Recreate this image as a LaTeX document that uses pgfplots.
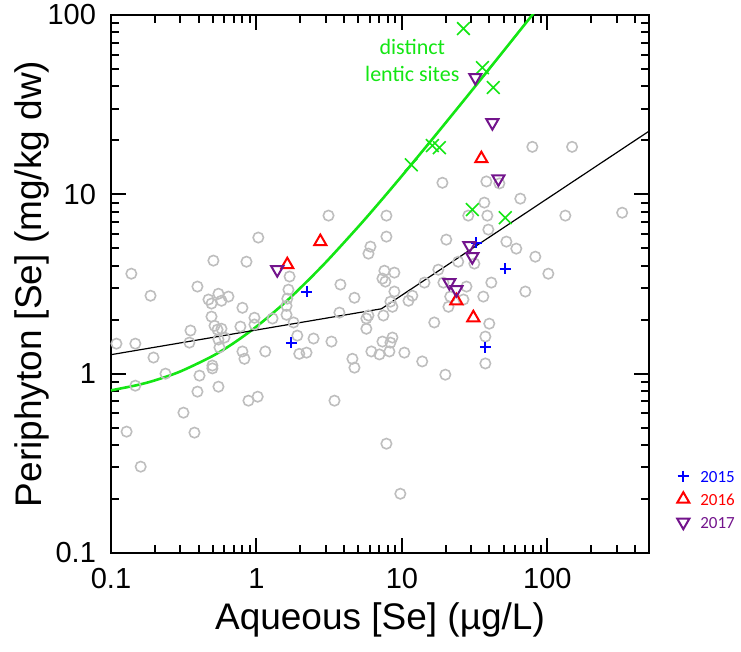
\documentclass[border=0pt]{standalone}
\usepackage{fontspec}
\setmainfont{Liberation Sans}
\newfontfamily\carlito{Carlito}
\usepackage{pgfplots}
\pgfplotsset{compat=1.18}
\definecolor{cgray}{RGB}{190,190,190}
\definecolor{cgreen}{RGB}{20,230,20}
\definecolor{cblue}{RGB}{0,0,255}
\definecolor{cred}{RGB}{255,0,0}
\definecolor{cpurple}{RGB}{115,20,140}
\begin{document}
\begin{tikzpicture}
\useasboundingbox (-55.5pt,-49.5pt) rectangle (315pt,276.5pt);
\begin{axis}[
  at={(0,0)}, anchor=south west,
  width=269pt, height=269pt, scale only axis,
  xmode=log, ymode=log,
  xmin=0.1, xmax=500, ymin=0.1, ymax=100,
  axis line style={line width=1.2pt},
  tick style={black, line width=1pt},
  major tick length=7.5pt, minor tick length=4pt,
  xtick={0.1,1,10,100}, xticklabels={0.1,1,10,100},
  ytick={0.1,1,10,100}, yticklabels={0.1,1,10,100},
  minor xtick={0.2,0.3,0.4,0.5,0.6,0.7,0.8,0.9,2,3,4,5,6,7,8,9,20,30,40,50,60,70,80,90,200,300,400},
  minor ytick={0.2,0.3,0.4,0.5,0.6,0.7,0.8,0.9,2,3,4,5,6,7,8,9,20,30,40,50,60,70,80,90},
  ticklabel style={font=\fontsize{14.5}{15}\selectfont},
  xticklabel style={yshift=-4pt},
  yticklabel style={xshift=-4pt},
  xlabel={Aqueous [Se] (µg/L)},
  ylabel={Periphyton [Se] (mg/kg dw)},
  label style={font=\fontsize{18.5}{20}\selectfont},
  xlabel style={at={(axis description cs:0.5,-0.125)}, anchor=center},
  ylabel style={at={(axis description cs:-0.147,0.5)}, anchor=center},
  legend style={draw=none, fill=none, at={(axis description cs:1.0296,0.10)}, anchor=west,
    font=\carlito\fontsize{8.5}{10}\selectfont,
    nodes={inner sep=0.5pt, text height=6.5pt, text depth=0pt}, row sep=4pt},
  legend cell align=left,
  legend image code/.code={\path[draw=none] (-2pt,0pt) -- (12pt,0pt); \draw[#1] plot coordinates {(4pt,0pt)};},
]
\addplot[only marks, mark=o, mark size=2.6pt, cgray, line width=0.8pt, forget plot] table {
x y
0.109 1.47
0.147 1.47
0.196 1.23
0.147 0.857
0.237 1.00
0.128 0.475
0.160 0.303
0.138 3.61
0.187 2.72
0.393 3.06
0.506 4.27
0.854 4.21
1.03 5.74
0.468 2.59
0.548 2.79
0.642 2.69
0.491 2.46
0.575 2.55
0.801 2.33
0.491 2.08
0.515 1.85
0.540 1.76
0.575 1.78
0.548 1.55
0.603 1.59
0.557 1.40
0.352 1.74
0.346 1.49
0.406 0.975
0.498 1.11
0.498 1.07
0.548 0.846
0.393 0.794
0.315 0.606
0.375 0.469
0.776 1.83
0.801 1.33
0.827 1.21
0.969 2.05
0.969 1.88
0.881 0.707
1.02 0.744
1.15 1.33
1.29 2.03
1.61 2.39
1.61 2.13
1.63 2.62
1.66 2.94
1.69 3.48
1.80 1.93
1.91 1.63
1.97 1.29
2.21 1.31
2.47 1.57
3.28 1.51
3.44 0.707
3.13 7.61
3.78 3.14
3.72 2.19
4.72 2.65
4.57 1.21
4.72 1.08
5.70 2.03
5.89 2.11
5.70 1.78
6.08 5.11
5.89 4.67
6.17 1.33
7.01 1.28
7.35 1.51
8.61 1.59
8.34 1.49
8.21 1.33
10.4 1.31
7.46 2.11
8.61 2.36
7.83 7.61
7.83 5.81
7.58 3.75
8.88 3.66
7.35 3.39
7.70 3.26
8.88 2.87
11.8 2.72
11.1 2.55
8.34 2.52
7.83 0.407
9.76 0.214
13.8 1.17
19.9 0.987
16.7 1.93
20.9 2.36
14.3 3.22
17.8 3.80
19.0 11.6
20.2 5.59
24.4 4.21
19.3 3.22
21.5 2.69
26.5 2.59
27.8 3.06
28.6 7.61
36.9 8.99
38.1 11.8
46.8 11.5
65.2 9.46
38.7 7.61
39.3 6.36
52.3 5.45
61.2 4.98
82.7 4.49
31.5 4.11
36.3 2.69
41.2 3.22
70.6 2.87
101.6 3.61
39.9 1.90
37.5 1.61
37.5 1.14
78.9 18.4
148 18.4
133 7.61
327 7.9
};
\addplot[cgreen, line width=1.3pt, smooth, forget plot] coordinates {
(0.1,0.807)(0.15,0.862)(0.2,0.917)(0.3,1.029)(0.5,1.255)(0.7,1.484)(1,1.83)
(1.5,2.41)(2,3.0)(3,4.18)(5,6.58)(7,9.0)(10,12.67)(15,18.84)(20,25.06)
(30,37.6)(50,63.0)(70,88.7)(85,108)};
\addplot[black, line width=0.6pt, forget plot] coordinates {(0.1,1.276)(7.23,2.30)(500,22.5)};
\addplot[only marks, mark=x, mark size=4.5pt, cgreen, line width=0.8pt, forget plot] coordinates {
(26.5,84)(35.8,50.9)(42.5,39.4)(16.2,18.7)(18.1,18.2)(11.6,14.6)(30.5,8.22)(51.4,7.41)};
\addplot[only marks, mark=+, mark size=2.8pt, cblue, line width=1pt] coordinates {
(1.74,1.49)(2.21,2.87)(32.5,5.38)(51.4,3.85)(37.5,1.40)};
\addlegendentry{\color{cblue}2015}
\addplot[only marks, mark=triangle, mark size=3.5pt, cred, line width=1pt] coordinates {
(1.63,4.05)(2.75,5.45)(35.2,15.8)(23.7,2.55)(31.0,2.05)};
\addlegendentry{\color{cred}2016}
\addplot[only marks, mark=triangle, mark options={rotate=180}, mark size=3.5pt, cpurple, line width=1pt] coordinates {
(1.39,3.80)(32.0,44.8)(41.9,25.1)(46.1,12.2)(29.1,5.18)(30.5,4.49)(21.2,3.22)(23.7,2.94)};
\addlegendentry{\color{cpurple}2017}
\node[cgreen, font=\carlito\fontsize{11}{13.5}\selectfont, align=center] at (axis cs:11.8,56) {distinct\\lentic sites};
\end{axis}
\end{tikzpicture}
\end{document}
